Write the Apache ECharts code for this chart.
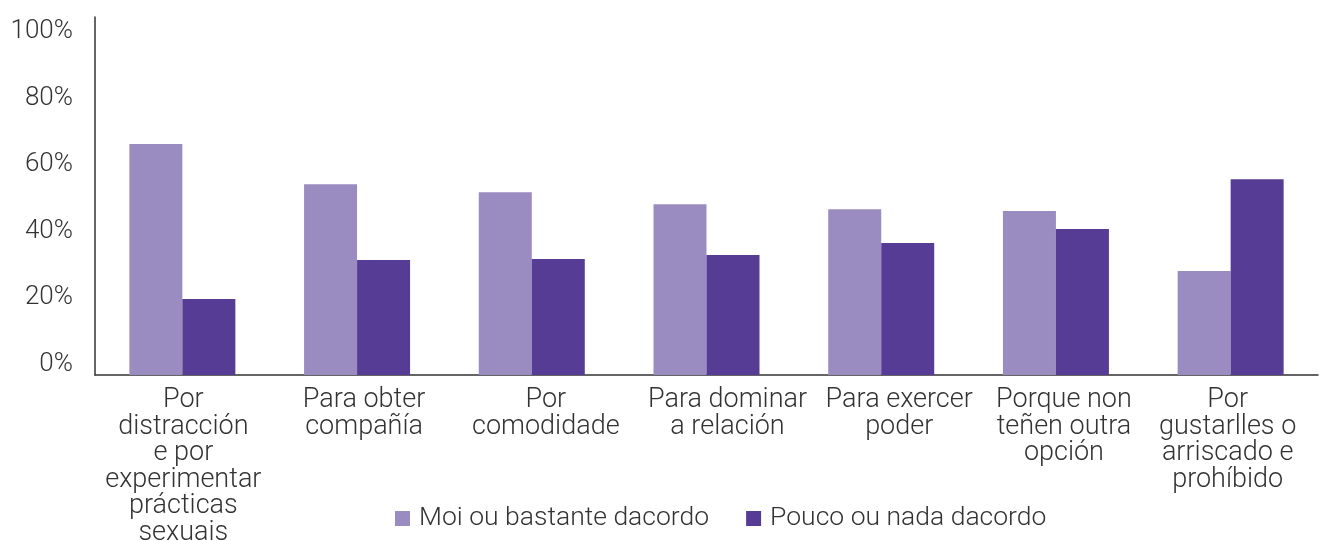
<!DOCTYPE html>
<html lang="gl">
<head>
    <meta charset="UTF-8">
    <title>Motivos</title>
    <script src="https://cdn.jsdelivr.net/npm/echarts/dist/echarts.min.js"></script>
    <style>
        body { margin: 0; background: #ffffff; }
        #chart { width: 1331px; height: 541px; }
    </style>
</head>
<body>
<div id="chart"></div>
<script>
var categories = [
    'Por\ndistracción\ne por\nexperimentar\nprácticas\nsexuais',
    'Para obter\ncompañía',
    'Por\ncomodidade',
    'Para dominar\na relación',
    'Para exercer\npoder',
    'Porque non\nteñen outra\nopción',
    'Por\ngustarlles o\narriscado e\nprohíbido'
];
var seriesNames = ['Moi ou bastante dacordo', 'Pouco ou nada dacordo'];
var agree = [69.5, 57.4, 55.0, 51.4, 49.9, 49.3, 31.3];
var disagree = [22.9, 34.6, 34.9, 36.1, 39.7, 43.9, 58.9];
var yTicks = [0, 20, 40, 60, 80, 100];

// the labels in the original sit a little off the bar centres (px, + is right)
var labelShift = [1, 7, 14, 21, 18, 8, -3];

var textColor = '#333333';
var font = 'Roboto, "Noto Sans", sans-serif';

var catData = categories.map(function (c, i) {
    var d = labelShift[i];
    var pad = d >= 0 ? [0, 0, 0, 2 * d] : [0, -2 * d, 0, 0];
    return { value: c, textStyle: { padding: pad } };
});

var chart = echarts.init(document.getElementById('chart'));
chart.setOption({
    animation: false,
    textStyle: { fontFamily: font },
    grid: { left: 95, right: 13, top: 17, bottom: 166, containLabel: false, outerBoundsMode: 'none' },
    legend: {
        left: 390,
        top: 500,
        itemWidth: 15,
        itemHeight: 15,
        itemGap: 37,
        icon: 'rect',
        textStyle: { fontSize: 26.5, fontWeight: 300, color: textColor, fontFamily: font, padding: [0, 0, 0, 4] },
        data: seriesNames
    },
    xAxis: {
        type: 'category',
        data: catData,
        axisLine: { lineStyle: { color: '#333333', width: 1.5 } },
        axisTick: { show: false },
        axisLabel: {
            interval: 0,
            margin: 12,
            fontSize: 27,
            fontWeight: 300,
            lineHeight: 26.5,
            color: textColor,
            fontFamily: font
        }
    },
    yAxis: {
        type: 'value',
        min: 0,
        max: 107.7,
        interval: 20,
        splitLine: { show: false },
        axisLine: { show: true, lineStyle: { color: '#333333', width: 1.5 } },
        axisTick: { show: false },
        axisLabel: {
            showMaxLabel: false,
            margin: 22,
            fontSize: 26,
            fontWeight: 300,
            color: textColor,
            fontFamily: font,
            verticalAlign: 'bottom',
            lineHeight: 22,
            formatter: function (v) {
                return yTicks.indexOf(v) >= 0 ? v + '%' : '';
            }
        }
    },
    series: [
        {
            name: seriesNames[0],
            type: 'bar',
            data: agree,
            barWidth: 53,
            barGap: '0%',
            itemStyle: { color: '#9A8CC1' }
        },
        {
            name: seriesNames[1],
            type: 'bar',
            data: disagree,
            barWidth: 53,
            barGap: '0%',
            itemStyle: { color: '#573C96' }
        }
    ]
});
</script>
</body>
</html>
